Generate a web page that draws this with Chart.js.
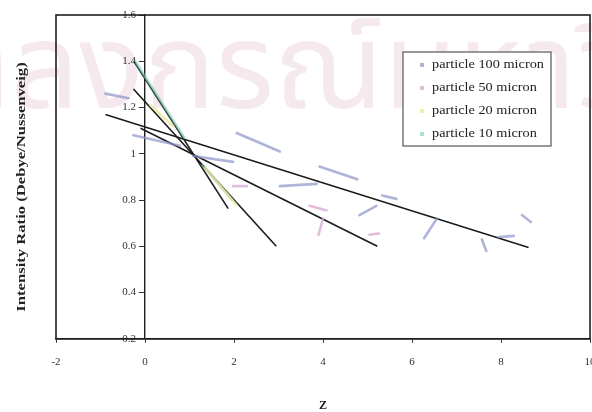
<!DOCTYPE html>
<html>
<head>
<meta charset="utf-8">
<script src="https://cdn.jsdelivr.net/npm/chart.js@4.4.1/dist/chart.umd.min.js"></script>
<style>
  html, body { margin: 0; padding: 0; background: #ffffff; }
  #wrap { width: 592px; height: 412px; position: relative; }
</style>
</head>
<body>
<div id="wrap"><canvas id="chart" width="592" height="412"></canvas></div>
<script>
// Series names, as listed in the legend
const seriesNames = ['particle 100 micron', 'particle 50 micron', 'particle 20 micron', 'particle 10 micron'];

// Measured intensity ratio vs Z; null separates runs of points
const ratio100 = [[-0.89, 1.26], [-0.37, 1.24], null, [-0.26, 1.08], [0.79, 1.035], null,
  [1.08, 0.99], [1.98, 0.965], null, [2.06, 1.09], [3.03, 1.01], null,
  [3.03, 0.86], [3.86, 0.87], null, [3.92, 0.945], [4.77, 0.89], null,
  [4.82, 0.735], [5.20, 0.775], null, [5.33, 0.82], [5.65, 0.805], null,
  [6.27, 0.635], [6.56, 0.72], null, [7.57, 0.63], [7.67, 0.58], null,
  [7.95, 0.64], [8.29, 0.645], null, [8.47, 0.735], [8.67, 0.705]];
const ratio50 = [[1.98, 0.86], [2.29, 0.86], null, [3.70, 0.775], [4.08, 0.755], null,
  [4.00, 0.72], [3.90, 0.65], null, [5.04, 0.65], [5.26, 0.655]];
const ratio20 = [[0.12, 1.21], [0.63, 1.12], null, [1.35, 0.94], [2.05, 0.78]];
const ratio10 = [[-0.22, 1.40], [0.88, 1.07], null, [1.30, 0.95], [1.96, 0.80]];

// Linear fits (start and end of each fitted range)
const fit100 = [[-0.89, 1.17], [8.62, 0.595]];
const fit50 = [[-0.10, 1.11], [5.22, 0.60]];
const fit20 = [[-0.26, 1.28], [2.95, 0.60]];
const fit10 = [[-0.25, 1.40], [1.87, 0.763]];

// Axis ranges and tick labels
const xRange = [-2, 10];
const xStep = 2;
const yRange = [0.2, 1.6];
const yStep = 0.2;
const yTickLabels = ['0.2', '0.4', '0.6', '0.8', '1', '1.2', '1.4', '1.6'];

const xTitle = 'Z';
const yTitle = 'Intensity Ratio (Debye/Nussenveig)';
const watermark = 'จุฬาลงกรณ์มหาวิทยาลัย';

const seriesColors = ['rgba(140,150,200,0.7)', 'rgba(215,165,210,0.75)', 'rgba(235,228,150,0.75)', 'rgba(120,200,180,0.6)'];
const fitColor = '#1c1c1c';
const serif = '"Liberation Serif", "Times New Roman", serif';

const toPoints = arr => arr.map(p => p ? { x: p[0], y: p[1] } : { x: null, y: null });

const measured = [ratio100, ratio50, ratio20, ratio10];
const fits = [fit100, fit50, fit20, fit10];

const datasets = [];
measured.forEach((arr, i) => {
  datasets.push({
    label: seriesNames[i],
    data: toPoints(arr),
    showLine: true,
    spanGaps: false,
    borderColor: seriesColors[i],
    backgroundColor: seriesColors[i],
    borderWidth: 2.6,
    borderCapStyle: 'round',
    pointRadius: 0,
    order: 1,
    isMeasured: true
  });
});
fits.forEach((arr, i) => {
  datasets.push({
    label: 'Linear (' + seriesNames[i] + ')',
    data: toPoints(arr),
    showLine: true,
    borderColor: fitColor,
    borderWidth: 1.6,
    pointRadius: 0,
    order: 2
  });
});

// Faint institutional watermark behind everything
const watermarkPlugin = {
  id: 'watermark',
  beforeDraw(chart) {
    const ctx = chart.ctx;
    ctx.save();
    ctx.fillStyle = '#ffffff';
    ctx.fillRect(0, 0, chart.width, chart.height);
    ctx.fillStyle = 'rgba(235,205,220,0.45)';
    ctx.font = '120px "Noto Sans Thai", "Noto Sans", "DejaVu Sans", sans-serif';
    ctx.textBaseline = 'alphabetic';
    ctx.textAlign = 'left';
    ctx.fillText(watermark, -182, 108);
    ctx.restore();
  }
};

// Value labels for the y axis, set to the left of the axis line at x = 0
const yLabelPlugin = {
  id: 'yLabels',
  afterDraw(chart) {
    const { ctx } = chart;
    const ys = chart.scales.y;
    const axisX = chart.scales.x.getPixelForValue(0);
    ctx.save();
    ctx.fillStyle = '#333';
    ctx.font = '11px ' + serif;
    ctx.textAlign = 'right';
    ctx.textBaseline = 'middle';
    ys.ticks.forEach(t => {
      const label = yTickLabels[Math.round((t.value - yRange[0]) / yStep)];
      ctx.fillText(label, axisX - 9, ys.getPixelForValue(t.value));
    });
    ctx.restore();
  }
};

// Outer frame around the plotting area
const framePlugin = {
  id: 'frame',
  afterDraw(chart) {
    const { ctx, chartArea: a } = chart;
    ctx.save();
    ctx.strokeStyle = '#1e1e1e';
    ctx.lineWidth = 1.6;
    ctx.strokeRect(a.left, a.top, a.right - a.left, a.bottom - a.top);
    ctx.restore();
  }
};

// Axis titles
const titlesPlugin = {
  id: 'titles',
  afterDraw(chart) {
    const { ctx, chartArea: a } = chart;
    ctx.save();
    ctx.fillStyle = '#222';
    ctx.textAlign = 'center';
    ctx.textBaseline = 'middle';
    ctx.font = 'bold 12px ' + serif;
    ctx.fillText(xTitle, (a.left + a.right) / 2, a.bottom + 67);
    ctx.translate(22, a.top + 172);
    ctx.rotate(-Math.PI / 2);
    ctx.scale(1.33, 1);
    ctx.font = 'bold 12.5px ' + serif;
    ctx.fillText(yTitle, 0, 0);
    ctx.restore();
  }
};

// Boxed legend inside the plot
const legendPlugin = {
  id: 'boxLegend',
  afterDraw(chart) {
    const { ctx, chartArea: a } = chart;
    const items = chart.data.datasets.filter(d => d.isMeasured);
    const x = a.left + 347, y = a.top + 37, w = 148, h = 94;
    ctx.save();
    ctx.fillStyle = '#ffffff';
    ctx.fillRect(x, y, w, h);
    ctx.strokeStyle = '#555';
    ctx.lineWidth = 1.2;
    ctx.strokeRect(x, y, w, h);
    ctx.textBaseline = 'middle';
    ctx.textAlign = 'left';
    items.forEach((d, i) => {
      const cy = y + 13 + i * 23;
      ctx.fillStyle = d.borderColor;
      ctx.fillRect(x + 17, cy - 2, 4, 4);
      ctx.save();
      ctx.translate(x + 29, cy);
      ctx.scale(1.1, 1);
      ctx.font = '13px ' + serif;
      ctx.fillStyle = '#222';
      ctx.fillText(d.label, 0, 0);
      ctx.restore();
    });
    ctx.restore();
  }
};

new Chart(document.getElementById('chart'), {
  type: 'scatter',
  data: { datasets },
  plugins: [watermarkPlugin, yLabelPlugin, framePlugin, titlesPlugin, legendPlugin],
  options: {
    responsive: false,
    animation: false,
    devicePixelRatio: 1,
    layout: { padding: { left: 56, top: 15, right: 2, bottom: 30 } },
    plugins: { legend: { display: false }, tooltip: { enabled: false } },
    scales: {
      x: {
        type: 'linear',
        min: xRange[0], max: xRange[1],
        ticks: { stepSize: xStep, color: '#333', padding: 13, font: { family: serif, size: 11 } },
        grid: { display: true, drawOnChartArea: false, drawTicks: true, tickLength: 4, color: '#333' },
        border: { display: true, color: '#1e1e1e', width: 1.6 },
        afterFit: s => { s.paddingRight = 0; s.paddingLeft = 0; }
      },
      y: {
        type: 'linear',
        position: { x: 0 },
        min: yRange[0], max: yRange[1],
        ticks: { stepSize: yStep, display: false },
        grid: { display: true, drawOnChartArea: false, drawTicks: true, tickLength: 5, color: '#333' },
        border: { display: true, color: '#1e1e1e', width: 1.4 }
      }
    }
  }
});
</script>
</body>
</html>
